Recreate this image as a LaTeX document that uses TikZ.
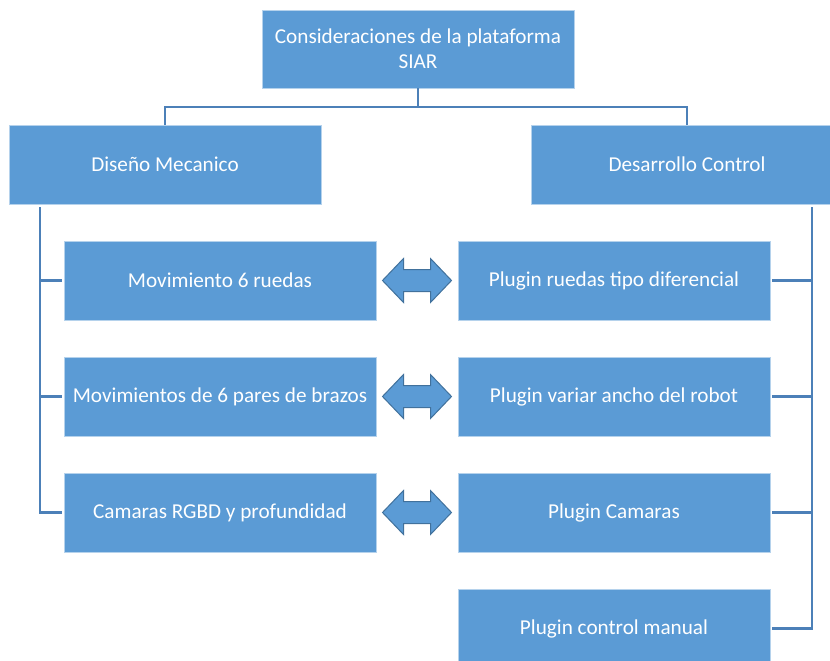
\documentclass[tikz,border=0pt]{standalone}
\usepackage{fontspec}
\setmainfont{Carlito}
\begin{document}
\definecolor{boxblue}{RGB}{91,155,213}
\definecolor{edgeblue}{RGB}{65,113,156}
\definecolor{linkblue}{RGB}{76,128,184}
\begin{tikzpicture}[x=1pt,y=-1pt,
  box/.style={rectangle, fill=boxblue, draw=white!55!boxblue, line width=0.8pt,
    minimum width=312pt, minimum height=79pt, inner sep=0pt, text=white,
    align=center, font=\fontsize{21.2}{25}\selectfont},
  conn/.style={draw=linkblue, line width=2.2pt},
  dbl/.style={draw=edgeblue, fill=boxblue, line width=1pt, line join=miter}]
\useasboundingbox (0,0) rectangle (830,661);

% root and its two branches
\node[box, minimum height=78pt] (top) at (418,49) {Consideraciones de la plataforma\\SIAR};
\node[box] (dm) at (165,164.5) {Diseño Mecanico};
\node[box] (dc) at (687,164.5) {Desarrollo Control};

% mechanical design items
\node[box] (l1) at (220,280.5) {Movimiento 6 ruedas};
\node[box] (l2) at (220,396.5) {Movimientos de 6 pares de brazos};
\node[box] (l3) at (220,512.5) {Camaras RGBD y profundidad};

% control development items
\node[box] (r1) at (614,280.5) {Plugin ruedas tipo diferencial};
\node[box] (r2) at (614,396.5) {Plugin variar ancho del robot};
\node[box] (r3) at (614,512.5) {Plugin Camaras};
\node[box] (r4) at (614,628.5) {Plugin control manual};

% root to branches
\coordinate (bus) at (418,107);
\draw[conn] (top.south) -- (bus);
\draw[conn] (bus) -| (dm.north);
\draw[conn] (bus) -| (dc.north);

% left trunk
\coordinate (ltop) at (40,207);
\draw[conn] (ltop) |- ([xshift=-2pt]l3.west);
\draw[conn] (ltop |- l1.west) -- ([xshift=-2pt]l1.west);
\draw[conn] (ltop |- l2.west) -- ([xshift=-2pt]l2.west);

% right trunk
\coordinate (rtop) at (812,207);
\draw[conn] (rtop) |- ([xshift=2pt]r4.east);
\draw[conn] (rtop |- r1.east) -- ([xshift=2pt]r1.east);
\draw[conn] (rtop |- r2.east) -- ([xshift=2pt]r2.east);
\draw[conn] (rtop |- r3.east) -- ([xshift=2pt]r3.east);

% double arrows linking matching items
\foreach \a/\b/\m in {l1/r1/m1, l2/r2/m2, l3/r3/m3}{
  \path (\a.east) -- (\b.west) coordinate[midway] (\m);
  \draw[dbl, shift={(\m)}] (-34.5,0) -- (-13.5,-22) -- (-13.5,-11) -- (13.5,-11)
    -- (13.5,-22) -- (34.5,0) -- (13.5,22) -- (13.5,11) -- (-13.5,11)
    -- (-13.5,22) -- cycle;
}
\end{tikzpicture}
\end{document}
